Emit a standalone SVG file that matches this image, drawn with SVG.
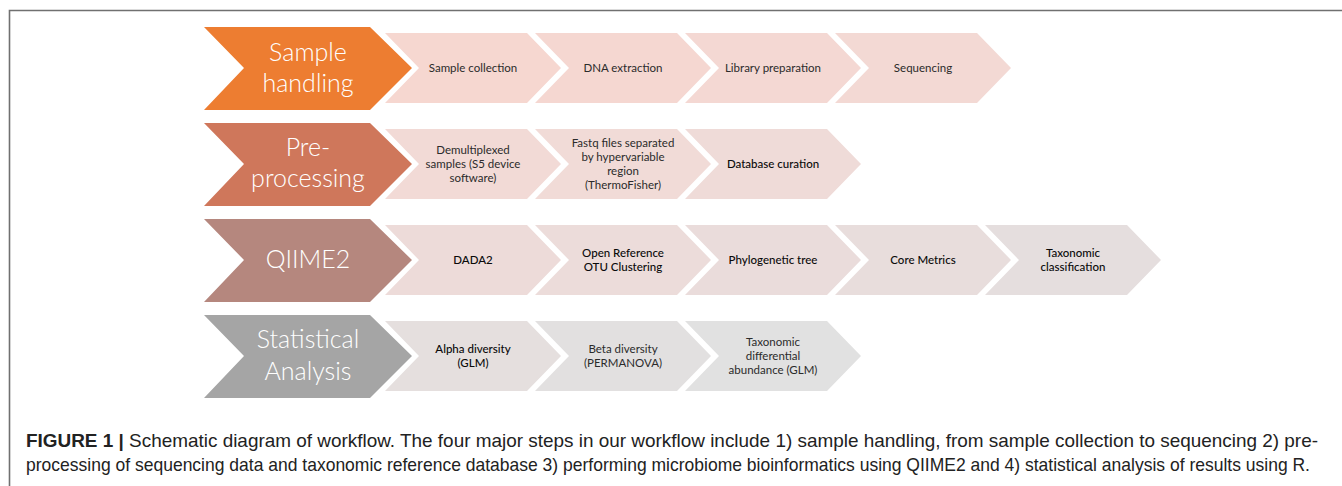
<svg xmlns="http://www.w3.org/2000/svg" width="1342" height="486" viewBox="0 0 1342 486">
<defs>
<style>
.big{font-family:Lato,"Open Sans","Liberation Sans",sans-serif;font-size:25px;fill:#ffffff;text-anchor:middle;font-weight:300}
.sm{font-family:Lato,"Open Sans","Liberation Sans",sans-serif;font-size:11.5px;fill:#2b2b2b;text-anchor:middle}
.smb{font-family:Lato,"Open Sans","Liberation Sans",sans-serif;font-size:11.5px;fill:#0a0a0a;text-anchor:middle;font-weight:500}
.cap{font-family:"Liberation Sans Narrow","Liberation Sans",Arial,sans-serif;font-size:19px;fill:#222222}
.frame{stroke:#707070;stroke-width:1.6;fill:none}
</style>
<polygon id="bigc" points="0,-41 166,-41 208,0 166,42 0,42 40,0"/>
<polygon id="smc" points="0,-35 142,-35 176,0 142,35 0,35 34,0"/>
</defs>
<g id="frame"><path class="frame" d="M9.5,486 V10.5 H1342"/></g>
<g id="connectors"></g>

<g id="row1">
<g id="n-sample-handling"><use href="#bigc" x="204" y="68" fill="#ED7D31"/><text class="big" x="308" y="61">Sample</text><text class="big" x="308" y="92">handling</text></g>
<g id="n-sample-collection"><use href="#smc" x="385" y="68" fill="#F6D7D0"/><text class="sm" x="473" y="72">Sample collection</text></g>
<g id="n-dna-extraction"><use href="#smc" x="535" y="68" fill="#F5D7D1"/><text class="sm" x="623" y="72">DNA extraction</text></g>
<g id="n-library-prep"><use href="#smc" x="685" y="68" fill="#F4D8D3"/><text class="sm" x="773" y="72">Library preparation</text></g>
<g id="n-sequencing"><use href="#smc" x="835" y="68" fill="#F3D9D4"/><text class="sm" x="923" y="72">Sequencing</text></g>
</g>

<g id="row2">
<g id="n-preprocessing"><use href="#bigc" x="204" y="164" fill="#CF775B"/><text class="big" x="308" y="156">Pre-</text><text class="big" x="308" y="187">processing</text></g>
<g id="n-demux"><use href="#smc" x="385" y="164" fill="#F2DAD6"/><text class="sm" x="473" y="154">Demultiplexed</text><text class="sm" x="473" y="168">samples (S5 device</text><text class="sm" x="473" y="182">software)</text></g>
<g id="n-fastq"><use href="#smc" x="535" y="164" fill="#F1DBD7"/><text class="sm" x="623" y="147">Fastq files separated</text><text class="sm" x="623" y="161">by hypervariable</text><text class="sm" x="623" y="175">region</text><text class="sm" x="623" y="189">(ThermoFisher)</text></g>
<g id="n-db-curation"><use href="#smc" x="685" y="164" fill="#EFDBD8"/><text class="smb" x="773" y="168">Database curation</text></g>
</g>

<g id="row3">
<g id="n-qiime2"><use href="#bigc" x="204" y="260" fill="#B5877E"/><text class="big" x="308" y="268">QIIME2</text></g>
<g id="n-dada2"><use href="#smc" x="385" y="260" fill="#EDDBD9"/><text class="smb" x="473" y="264">DADA2</text></g>
<g id="n-otu"><use href="#smc" x="535" y="260" fill="#ECDCDA"/><text class="smb" x="623" y="257">Open Reference</text><text class="smb" x="623" y="271">OTU Clustering</text></g>
<g id="n-phylo"><use href="#smc" x="685" y="260" fill="#EADCDB"/><text class="smb" x="773" y="264">Phylogenetic tree</text></g>
<g id="n-core"><use href="#smc" x="835" y="260" fill="#E8DDDC"/><text class="smb" x="923" y="264">Core Metrics</text></g>
<g id="n-taxclass"><use href="#smc" x="985" y="260" fill="#E5DEDE"/><text class="smb" x="1073" y="257">Taxonomic</text><text class="smb" x="1073" y="271">classification</text></g>
</g>

<g id="row4">
<g id="n-stats"><use href="#bigc" x="204" y="356" fill="#A5A5A5"/><text class="big" x="308" y="348">Statistical</text><text class="big" x="308" y="380">Analysis</text></g>
<g id="n-alpha"><use href="#smc" x="385" y="356" fill="#E5DFDE"/><text class="smb" x="473" y="353">Alpha diversity</text><text class="smb" x="473" y="367">(GLM)</text></g>
<g id="n-beta"><use href="#smc" x="535" y="356" fill="#E2E0E0"/><text class="sm" x="623" y="353">Beta diversity</text><text class="sm" x="623" y="367">(PERMANOVA)</text></g>
<g id="n-taxdiff"><use href="#smc" x="685" y="356" fill="#E1E1E1"/><text class="sm" x="773" y="346">Taxonomic</text><text class="sm" x="773" y="360">differential</text><text class="sm" x="773" y="374">abundance (GLM)</text></g>
</g>

<g id="caption">
<text class="cap" x="26" y="447" textLength="1292" lengthAdjust="spacingAndGlyphs"><tspan font-weight="bold">FIGURE 1 |</tspan> Schematic diagram of workflow. The four major steps in our workflow include 1) sample handling, from sample collection to sequencing 2) pre-</text>
<text class="cap" x="26" y="471" textLength="1284" lengthAdjust="spacingAndGlyphs">processing of sequencing data and taxonomic reference database 3) performing microbiome bioinformatics using QIIME2 and 4) statistical analysis of results using R.</text>
</g>
</svg>
